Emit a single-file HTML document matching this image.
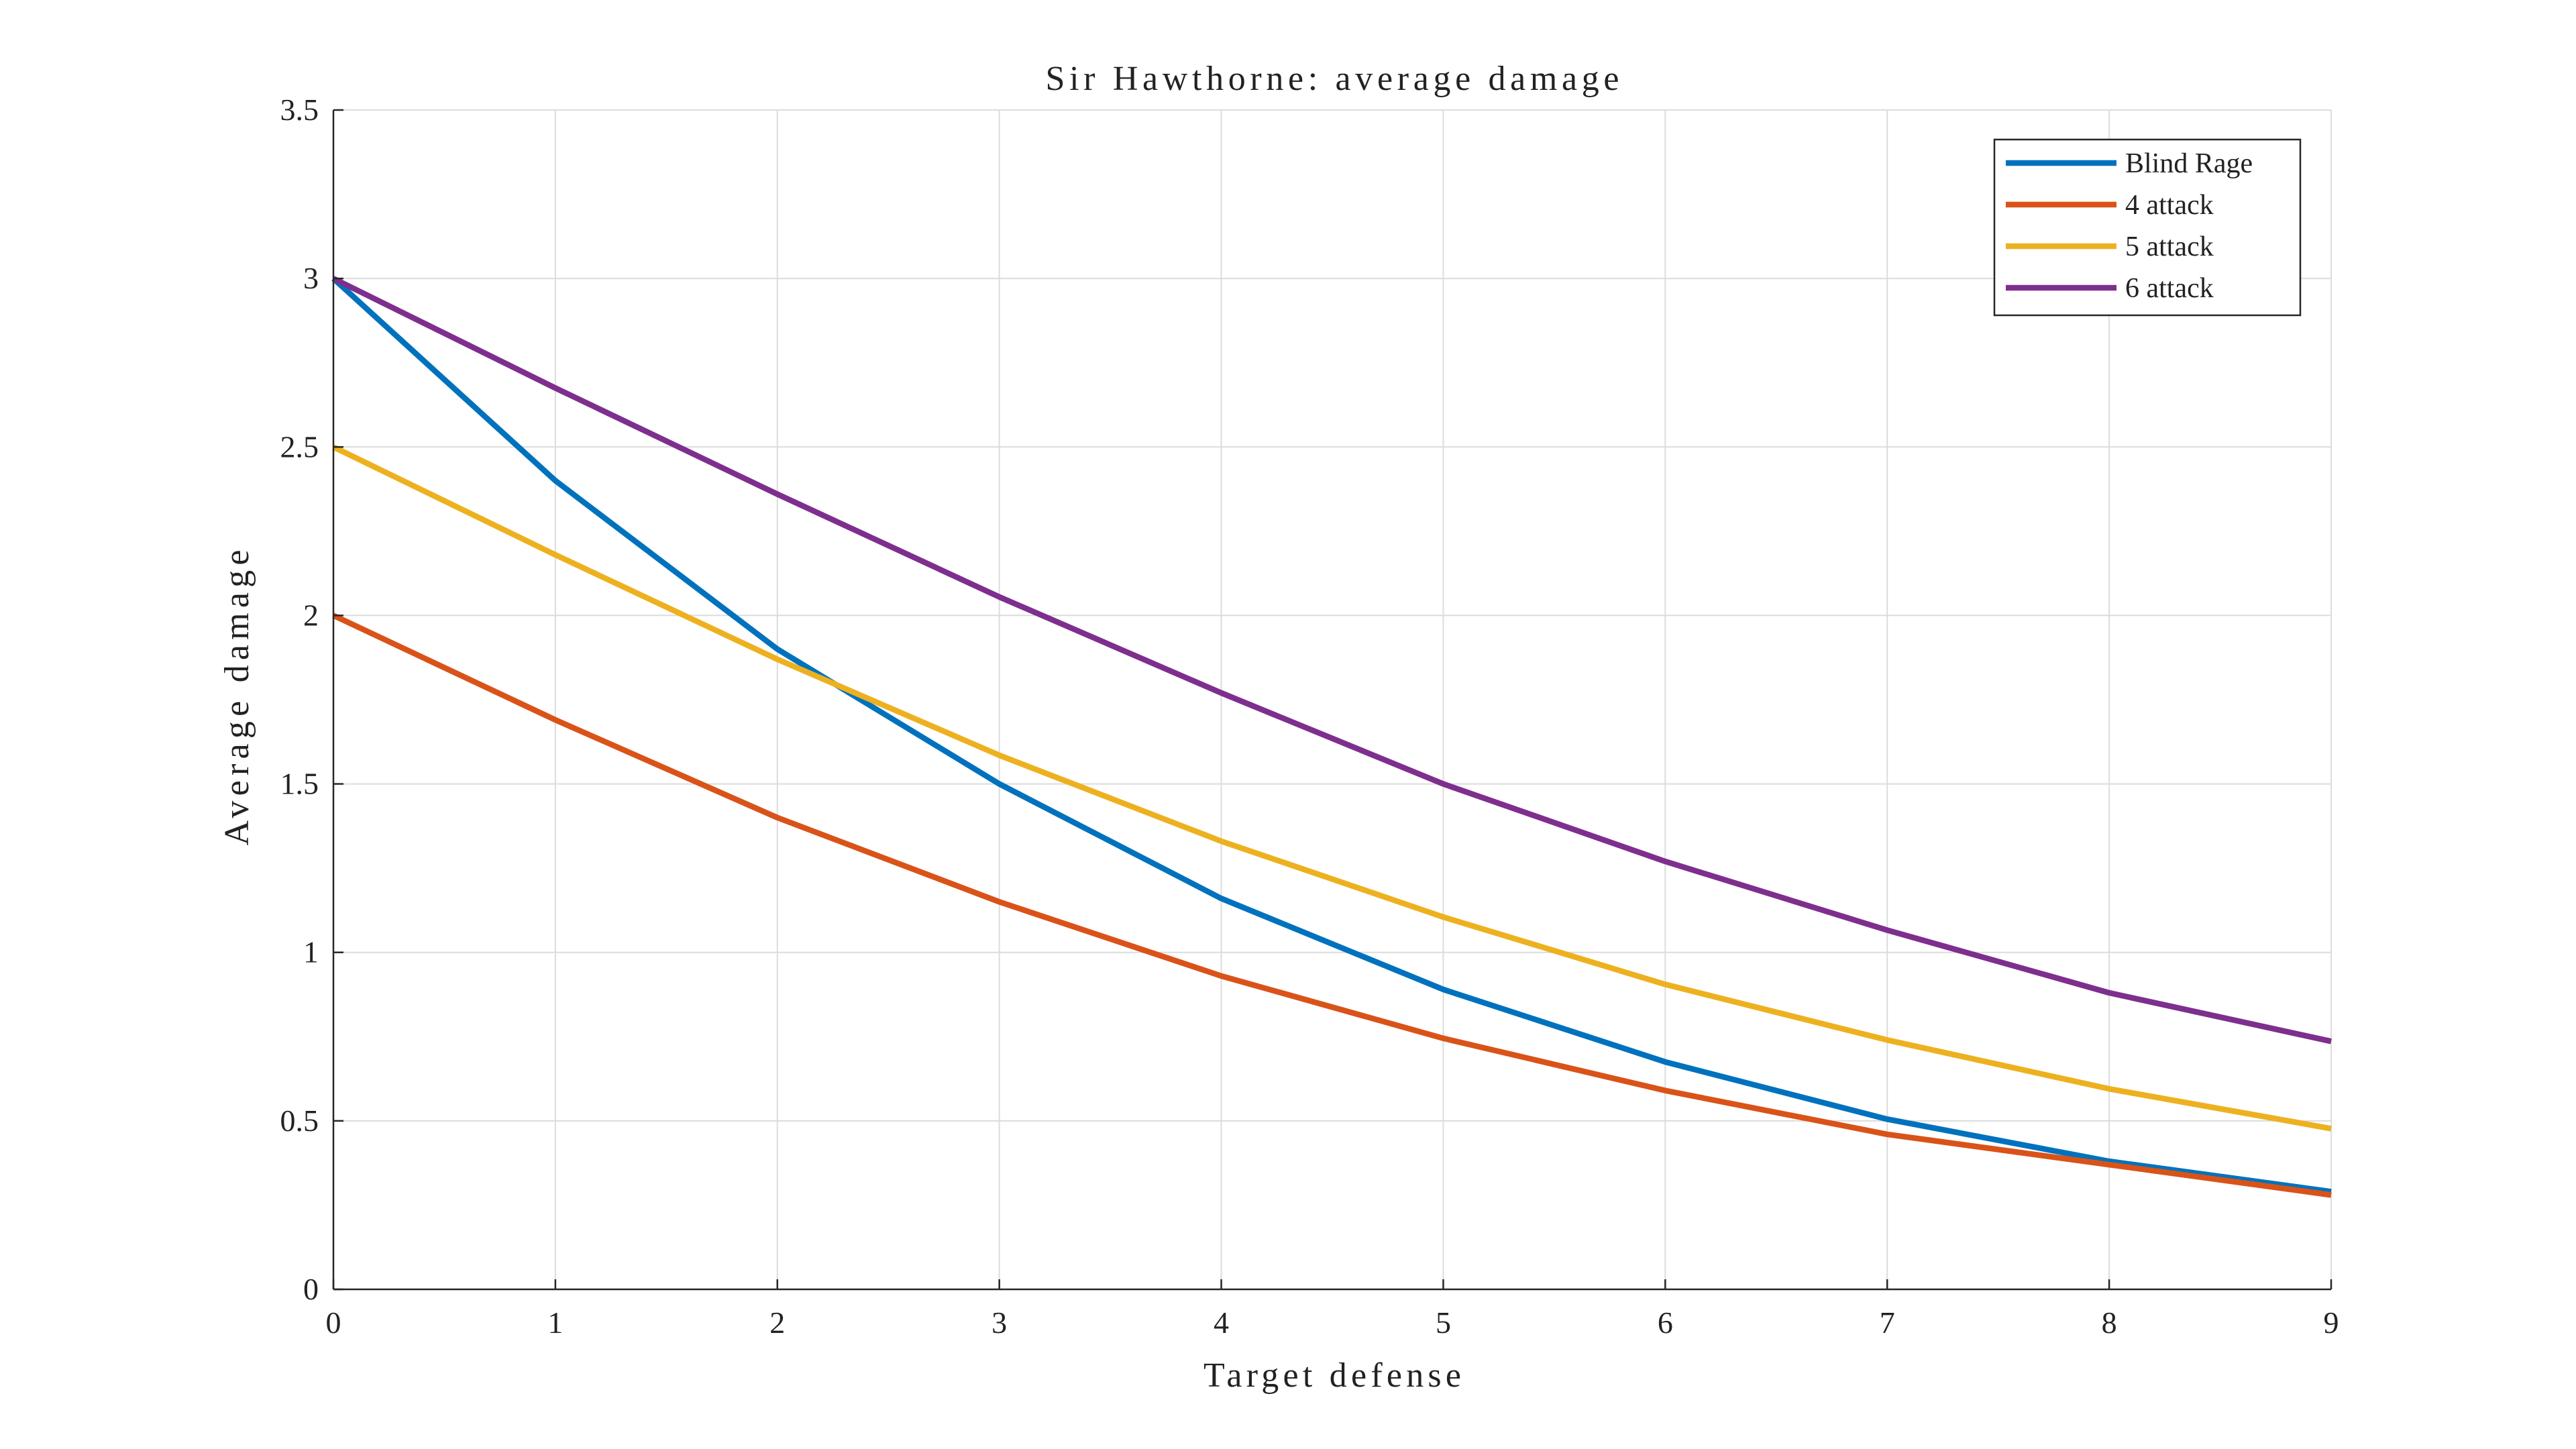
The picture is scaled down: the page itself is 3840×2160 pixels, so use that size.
<!DOCTYPE html>
<html>
<head>
<meta charset="utf-8">
<style>
html,body{margin:0;padding:0;background:#fff;}
svg{display:block;font-family:"Liberation Serif",serif;}
</style>
</head>
<body>
<svg id="chart" width="3840" height="2160" viewBox="0 0 3840 2160" xmlns="http://www.w3.org/2000/svg">
<rect width="3840" height="2160" fill="#fff"/>
<g id="grid"></g>
<g id="series"></g>
<g id="axes"></g>
<text x="1986" y="134" font-size="52" text-anchor="middle" textLength="855" lengthAdjust="spacing" fill="#222">Sir Hawthorne: average damage</text>
<text x="1986" y="2067" font-size="52" text-anchor="middle" textLength="384" lengthAdjust="spacing" fill="#222">Target defense</text>
<text transform="translate(370,1040) rotate(-90)" font-size="52" text-anchor="middle" textLength="441" lengthAdjust="spacing" fill="#222">Average damage</text>
<g id="legend"></g>
</svg>
<script>
const xCats = [0,1,2,3,4,5,6,7,8,9];
const blindRage = [3.0,2.40,1.90,1.50,1.16,0.89,0.675,0.505,0.38,0.29];
const attack4 = [2.0,1.69,1.40,1.15,0.93,0.745,0.59,0.46,0.37,0.28];
const attack5 = [2.5,2.18,1.87,1.585,1.33,1.105,0.905,0.74,0.595,0.477];
const attack6 = [3.0,2.675,2.36,2.055,1.77,1.50,1.27,1.066,0.88,0.736];
const seriesNames = ["Blind Rage","4 attack","5 attack","6 attack"];
const xTicks = [0,1,2,3,4,5,6,7,8,9];
const yTicks = [0,0.5,1,1.5,2,2.5,3,3.5];
const yTickLabels = ["0","0.5","1","1.5","2","2.5","3","3.5"];

const NS="http://www.w3.org/2000/svg";
const L=497,R=3475,T=164,B=1922;
const xMin=0,xMax=9,yMin=0,yMax=3.5;
function sx(v){return L+(v-xMin)/(xMax-xMin)*(R-L);}
function sy(v){return B-(v-yMin)/(yMax-yMin)*(B-T);}
function el(tag,attrs,parent){const e=document.createElementNS(NS,tag);for(const k in attrs)e.setAttribute(k,attrs[k]);parent.appendChild(e);return e;}
const grid=document.getElementById('grid'),axes=document.getElementById('axes'),ser=document.getElementById('series'),leg=document.getElementById('legend');

xTicks.forEach(v=>{
  const g=el('line',{x1:sx(v),x2:sx(v),y1:T,y2:B,stroke:'#dcdcdc','stroke-width':2},grid);
  
  
  const t=el('line',{x1:sx(v),x2:sx(v),y1:B,y2:B-15,stroke:'#262626','stroke-width':2.5},axes);
  
  
  const lb=el('text',{x:sx(v),y:B+65,'font-size':46,'text-anchor':'middle',fill:'#222'},axes);
  lb.textContent=String(v);
  
  
});
yTicks.forEach((v,i)=>{
  const g=el('line',{x1:L,x2:R,y1:sy(v),y2:sy(v),stroke:'#dcdcdc','stroke-width':2},grid);
  
  
  const t=el('line',{x1:L,x2:L+15,y1:sy(v),y2:sy(v),stroke:'#262626','stroke-width':2.5},axes);
  
  
  const lb=el('text',{x:L-22,y:sy(v)+15,'font-size':46,'text-anchor':'end',fill:'#222'},axes);
  lb.textContent=yTickLabels[i];
  
  
});
const xa=el('line',{x1:L,x2:R,y1:B,y2:B,stroke:'#262626','stroke-width':2.5},axes);


const ya=el('line',{x1:L,x2:L,y1:T,y2:B,stroke:'#262626','stroke-width':2.5},axes);



const data=[blindRage,attack4,attack5,attack6];
const colors=['#0072BD','#D95319','#EDB120','#7E2F8E'];
const lineNames=['line-blind-rage','line-4-attack','line-5-attack','line-6-attack'];
data.forEach((arr,si)=>{
  const pts=arr.map((v,i)=>sx(xCats[i])+','+sy(v)).join(' ');
  const p=el('polyline',{points:pts,fill:'none',stroke:colors[si],'stroke-width':8.5,'stroke-linejoin':'round'},ser);
  
  
});

const lb=el('rect',{x:2973,y:208,width:456,height:262,fill:'#fff',stroke:'#262626','stroke-width':2.5},leg);


seriesNames.forEach((n,i)=>{
  const y=243+i*62;
  const ln=el('line',{x1:2990,x2:3155,y1:y,y2:y,stroke:colors[i],'stroke-width':8.5},leg);
  
  
  const t=el('text',{x:3168,y:y+14,'font-size':42,fill:'#222'},leg);
  t.textContent=n;
  
  
});
</script>
</body>
</html>
